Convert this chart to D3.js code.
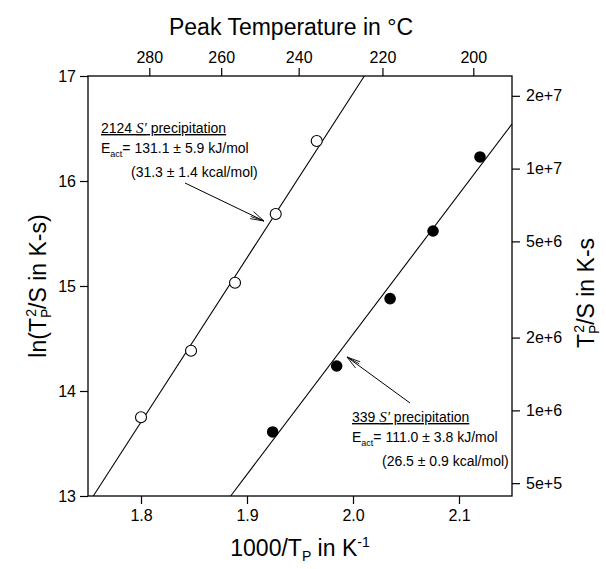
<!DOCTYPE html>
<html><head><meta charset="utf-8">
<script src="https://cdn.jsdelivr.net/npm/d3@7"></script>
<style>body{margin:0;background:#fff}svg{display:block}text{font-family:"Liberation Sans",Arial,sans-serif;fill:#000}</style>
</head><body><svg id="c" width="606" height="569"></svg>
<script>
const open2124X = [1.800, 1.8472, 1.8887, 1.9271, 1.9658];
const open2124Y = [13.75, 14.384, 15.031, 15.686, 16.381];
const filled339X = [1.9242, 1.9846, 2.035, 2.0755, 2.1198];
const filled339Y = [13.610, 14.238, 14.88, 15.524, 16.229];
const fit2124 = [[1.755, 13], [2.0107, 17]];
const fit339 = [[1.8846, 13], [2.15, 16.543]];
const xTicks = [1.8, 1.9, 2.0, 2.1];
const xTickLabels = ["1.8", "1.9", "2.0", "2.1"];
const yTicks = [13, 14, 15, 16, 17];
const topTicksC = [280, 260, 240, 220, 200];
const rightTicks = [5e5, 1e6, 2e6, 5e6, 1e7, 2e7];
const rightTickLabels = ["5e+5", "1e+6", "2e+6", "5e+6", "1e+7", "2e+7"];

(function(){
const svg = d3.select("#c");
const L = 88, R = 512, T = 76, B = 496;
const x = d3.scaleLinear().domain([1.75, 2.15]).range([L, R]);
const y = d3.scaleLinear().domain([13, 17]).range([B, T]);

const g = svg.append("g");
const fs = "16px";
const axB = d3.axisBottom(x).tickValues(xTicks).tickFormat((d,i)=>xTickLabels[i]).tickSize(8).tickPadding(6);
const axL = d3.axisLeft(y).tickValues(yTicks).tickFormat(d3.format("d")).tickSize(8).tickPadding(4);
const axT = d3.axisTop(x).tickValues(topTicksC.map(c => 1000/(c+273.15))).tickFormat((d,i)=>topTicksC[i]).tickSize(8).tickPadding(5);
const axR = d3.axisRight(y).tickValues(rightTicks.map(v=>Math.log(v))).tickFormat((d,i)=>rightTickLabels[i]).tickSize(8).tickPadding(6);
function style(sel){ sel.select(".domain").remove(); sel.selectAll("line").attr("stroke","#000").attr("stroke-width",1.2); sel.selectAll("text").attr("font-size",fs).attr("font-family","Liberation Sans, Arial, sans-serif").attr("fill","#000"); }
g.append("g").attr("transform",`translate(0,${B})`).call(axB).call(style);
g.append("g").attr("transform",`translate(${L},0)`).call(axL).call(style);
g.append("g").attr("transform",`translate(0,${T})`).call(axT).call(style);
g.append("g").attr("transform",`translate(${R},0)`).call(axR).call(style);
g.append("rect").attr("x",L).attr("y",T).attr("width",R-L).attr("height",B-T).attr("fill","none").attr("stroke","#000").attr("stroke-width",1.3);

const line = d3.line().x(d=>x(d[0])).y(d=>y(d[1]));
[fit2124, fit339].forEach(f => g.append("path").attr("d", line(f)).attr("stroke","#000").attr("stroke-width",1.1).attr("fill","none"));

g.selectAll(".o").data(open2124X).enter().append("circle").attr("cx",d=>x(d)).attr("cy",(d,i)=>y(open2124Y[i])).attr("r",5.5).attr("fill","#fff").attr("stroke","#000").attr("stroke-width",1.1);
g.selectAll(".f").data(filled339X).enter().append("circle").attr("cx",d=>x(d)).attr("cy",(d,i)=>y(filled339Y[i])).attr("r",5.8).attr("fill","#000");

svg.append("text").attr("x",291).attr("y",35).attr("text-anchor","middle").attr("font-size","23px").text("Peak Temperature in °C");
const bt = svg.append("text").attr("x",300).attr("y",556).attr("text-anchor","middle").attr("font-size","23px");
bt.append("tspan").text("1000/T");
bt.append("tspan").attr("font-size","14px").attr("dy",5).text("P");
bt.append("tspan").attr("dy",-5).text(" in K");
bt.append("tspan").attr("font-size","14px").attr("dy",-9).text("-1");

const lt = svg.append("text").attr("transform","translate(46,286) rotate(-90)").attr("text-anchor","middle").attr("font-size","23px");
lt.append("tspan").text("ln(T");
lt.append("tspan").attr("font-size","14px").attr("dy",5).text("P");
lt.append("tspan").attr("font-size","14px").attr("dx",-8).attr("dy",-15).text("2");
lt.append("tspan").attr("dy",10).text("/S in K-s)");

const rt = svg.append("text").attr("transform","translate(594,293) rotate(-90)").attr("text-anchor","middle").attr("font-size","23px");
rt.append("tspan").text("T");
rt.append("tspan").attr("font-size","14px").attr("dy",5).text("P");
rt.append("tspan").attr("font-size","14px").attr("dx",-8).attr("dy",-15).text("2");
rt.append("tspan").attr("dy",10).text("/S in K-s");

function annot(x0, y0, num, ea, err, kc) {
  const t1 = svg.append("text").attr("x",x0).attr("y",y0).attr("font-size","14px").attr("text-decoration","underline");
  t1.append("tspan").text(num + " ");
  t1.append("tspan").attr("font-family","Liberation Serif, Times New Roman, serif").attr("font-style","italic").attr("font-size","15px").text("S'");
  t1.append("tspan").text(" precipitation");
  const t2 = svg.append("text").attr("x",x0).attr("y",y0+20).attr("font-size","14px");
  t2.append("tspan").text("E");
  t2.append("tspan").attr("font-size","9px").attr("dy",4).text("act");
  t2.append("tspan").attr("dy",-4).text("= " + ea + " ± " + err + " kJ/mol");
  svg.append("text").attr("x",x0+30).attr("y",y0+44).attr("font-size","14px").text(kc);
}
annot(101, 133, "2124", "131.1", "5.9", "(31.3 ± 1.4 kcal/mol)");
annot(352, 422, "339", "111.0", "3.8", "(26.5 ± 0.9 kcal/mol)");

function arrow(x1,y1,x2,y2){
  svg.append("line").attr("x1",x1).attr("y1",y1).attr("x2",x2).attr("y2",y2).attr("stroke","#000").attr("stroke-width",1);
  const a = Math.atan2(y2-y1,x2-x1), len=14;
  [-0.28, -0.12, 0.28].forEach(da=>{
    svg.append("line").attr("x1",x2).attr("y1",y2).attr("x2",x2-len*Math.cos(a+da)).attr("y2",y2-len*Math.sin(a+da)).attr("stroke","#000").attr("stroke-width",0.9);
  });
}
arrow(185,183,264,221);
arrow(410,403,347,357);
})();
</script></body></html>
